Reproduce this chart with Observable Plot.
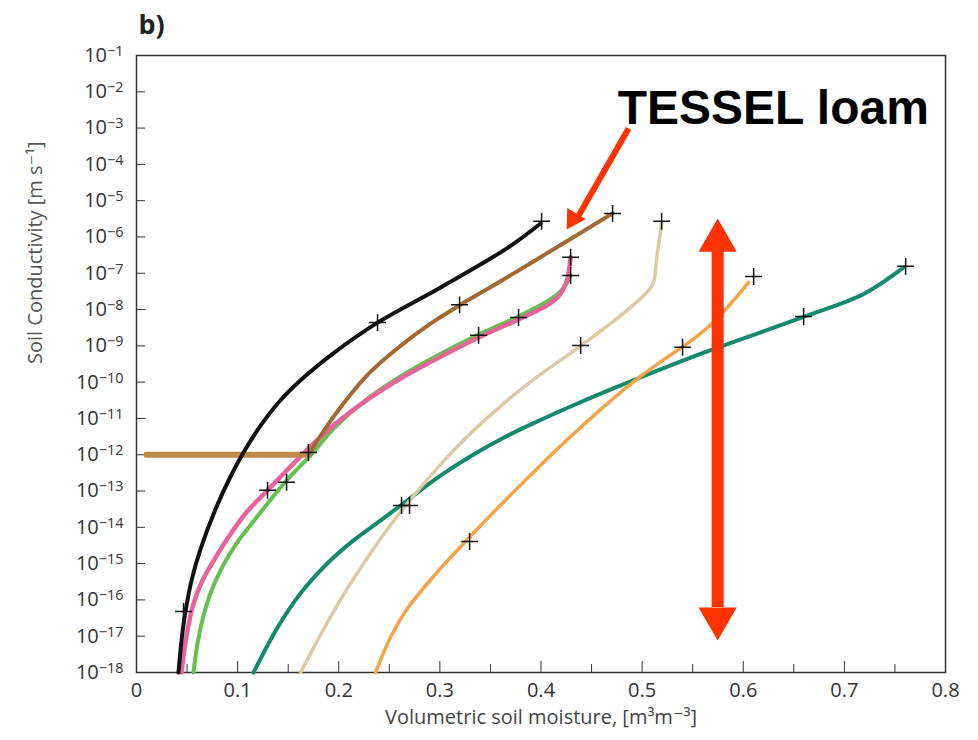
<!DOCTYPE html>
<html><head><meta charset="utf-8">
<script src="https://cdn.jsdelivr.net/npm/d3@7"></script>
<script src="https://cdn.jsdelivr.net/npm/@observablehq/plot@0.6"></script>
<style>body{margin:0;background:#fff}</style>
</head><body><div id="chart"></div>
<script>
// x = volumetric soil moisture [m3/m3], logK = log10 of soil conductivity [m/s]
const blackX    = [0.0415,0.0450,0.0485,0.0550,0.0633,0.0781,0.0930,0.1058,0.1227,0.1424,0.1622,0.1949,0.2384,0.3007,0.3670,0.3996];
const blackLogK = [-18,-17.0,-16.3,-15.4,-14.6,-13.5,-12.6,-11.94,-11.2,-10.5,-9.95,-9.2,-8.36,-7.39,-6.3,-5.63];
const tesselFlatX    = [0.01,0.1701];
const tesselFlatLogK = [-12,-12];
const tesselX    = [0.1701,0.1949,0.2285,0.2611,0.2900,0.3185,0.3600,0.4194,0.4708];
const tesselLogK = [-12,-10.95,-9.80,-9.00,-8.40,-7.90,-7.22,-6.22,-5.35];
const pinkX    = [0.0445,0.0495,0.0564,0.0653,0.0752,0.0900,0.1078,0.1296,0.1642,0.1949,0.2285,0.2611,0.2938,0.3383,0.3778,0.4075,0.4194,0.4253,0.4293];
const pinkLogK = [-18,-16.98,-16.10,-15.46,-14.97,-14.31,-13.62,-12.98,-11.99,-11.19,-10.48,-9.90,-9.40,-8.77,-8.27,-7.86,-7.56,-7.23,-6.56];
const greenX    = [0.0564,0.0603,0.0663,0.0742,0.0851,0.0989,0.1147,0.1306,0.1484,0.1721,0.1949,0.2285,0.2611,0.2938,0.3383,0.3778,0.4075,0.4194,0.4253,0.4293];
const greenLogK = [-18,-17.20,-16.43,-15.74,-15.08,-14.44,-13.87,-13.31,-12.71,-12.02,-11.28,-10.45,-9.84,-9.32,-8.69,-8.19,-7.75,-7.50,-7.28,-7.06];
const beigeX    = [0.1622,0.1889,0.2087,0.2285,0.2433,0.2661,0.2977,0.3304,0.3630,0.3966,0.4392,0.4886,0.5104,0.5143,0.5193];
const beigeLogK = [-18,-16.61,-15.68,-14.83,-14.24,-13.40,-12.36,-11.41,-10.59,-9.85,-9.0,-7.94,-7.31,-6.59,-5.63];
const tealX    = [0.1157,0.1395,0.1622,0.1889,0.2146,0.2384,0.2611,0.2977,0.3304,0.3630,0.3966,0.4293,0.4619,0.4955,0.5282,0.5697,0.6597,0.7191,0.7587];
const tealLogK = [-18,-16.76,-15.82,-14.99,-14.36,-13.87,-13.40,-12.63,-12.04,-11.53,-11.08,-10.67,-10.28,-9.90,-9.54,-9.10,-8.20,-7.57,-6.84];
const orangeX    = [0.2364,0.2512,0.2681,0.3007,0.3284,0.3630,0.3966,0.4293,0.4619,0.4955,0.5282,0.5480,0.5678,0.5875,0.6053];
const orangeLogK = [-18,-17.03,-16.23,-15.13,-14.30,-13.30,-12.37,-11.50,-10.68,-9.90,-9.25,-8.87,-8.42,-7.84,-7.25];
const plusX    = [0.0465,0.1296,0.1484,0.170,0.2384,0.3195,0.3383,0.3778,0.4006,0.4293,0.4293,0.4708,0.5193,0.4392,0.2621,0.270,0.3294,0.540,0.6103,0.6597,0.7606];
const plusLogK = [-16.32,-12.98,-12.76,-11.94,-8.36,-7.87,-8.71,-8.22,-5.57,-6.56,-7.06,-5.35,-5.57,-8.99,-13.40,-13.40,-14.39,-9.04,-7.09,-8.19,-6.81];
const xTicks = [0,0.1,0.2,0.3,0.4,0.5,0.6,0.7,0.8];
const xMinorTicks = [0.05,0.15,0.25,0.35,0.45,0.55,0.65,0.75];
const yTickExp = [-18,-17,-16,-15,-14,-13,-12,-11,-10,-9,-8,-7,-6,-5,-4,-3,-2,-1];
// annotations
const annotText = "TESSEL loam";
const annotTextX = 0.4758, annotTextLogK = -2.45;
const annotArrowX = [0.4866,0.4367], annotArrowLogK = [-3.01,-5.435];
const annotHeadX = 0.4318, annotHeadLogK = -5.50;
const rangeArrowX = 0.5747;
const rangeShaftLogK = [-6.40,-16.21];
const rangeHeadLogK = [-6.10,-16.51];

const series = [
  {name:"teal", xs:tealX, ls:tealLogK, color:"#138a6c", w:4},
  {name:"orange", xs:orangeX, ls:orangeLogK, color:"#f4a347", w:3.5},
  {name:"beige", xs:beigeX, ls:beigeLogK, color:"#dccaa6", w:3.5},
  {name:"green", xs:greenX, ls:greenLogK, color:"#63c04f", w:4},
  {name:"pink", xs:pinkX, ls:pinkLogK, color:"#e8639a", w:4.5},
  {name:"tesselFlat", xs:tesselFlatX, ls:tesselFlatLogK, color:"#c08a4a", w:6, curve:"linear"},
  {name:"tessel", xs:tesselX, ls:tesselLogK, color:"#a26a32", w:4},
  {name:"black", xs:blackX, ls:blackLogK, color:"#111111", w:4}
];
const toRows = (xs, ls) => xs.map((x,i)=>({x, k: 10**ls[i]}));

const font = "'Open Sans', 'DejaVu Sans', sans-serif";
const marks = [
  Plot.frame({stroke:"#333", strokeWidth:1.5}),
  Plot.axisY({ticks: yTickExp.map(e=>10**e), tickFormat: d=>String(Math.round(Math.log10(d))), tickSize:-9, tickPadding:22, fontSize:20, label:null, color:"#333"}),
  Plot.axisX({ticks: xTicks, tickFormat: d=>String(d), tickSize:-11, tickPadding:21, fontSize:20, label:null, color:"#333"}),
  Plot.axisX({ticks: xMinorTicks, tickFormat: ()=>"", tickSize:-8, label:null, color:"#333"}),
  ...series.map(s => Plot.line(toRows(s.xs, s.ls), {x:"x", y:"k", stroke:s.color, strokeWidth:s.w, curve:s.curve||"catmull-rom"})),
  Plot.dot(toRows(plusX, plusLogK), {x:"x", y:"k", symbol:"plus", r:5.5, stroke:"#111", strokeWidth:1.5}),
  // TESSEL annotation
  Plot.link([0], {x1:()=>annotArrowX[0], y1:()=>10**annotArrowLogK[0], x2:()=>annotArrowX[1], y2:()=>10**annotArrowLogK[1], stroke:"#ff3300", strokeWidth:6}),
  Plot.dot([0], {x:()=>annotHeadX, y:()=>10**annotHeadLogK, symbol:"triangle", r:8, fill:"#ff3300", rotate:211.5}),
  Plot.text([annotText], {x:()=>annotTextX, y:()=>10**annotTextLogK, text:d=>d, textAnchor:"start", lineAnchor:"middle", fontSize:48, fontWeight:"bold", fontFamily:"'Liberation Sans', Arial, sans-serif", fill:"#000"}),
  // double arrow
  Plot.ruleX([rangeArrowX], {x:d=>d, y1:()=>10**rangeShaftLogK[0], y2:()=>10**rangeShaftLogK[1], stroke:"#ff3300", strokeWidth:12}),
  Plot.dot([0,1], {x:()=>rangeArrowX, y:i=>10**rangeHeadLogK[i], symbol:"triangle", r:14.2, fill:"#ff3300", rotate:i=>i===0?0:180}),
  // labels
  Plot.text(["b)"], {frameAnchor:"top-left", text:d=>d, dx:2, dy:-30, textAnchor:"start", lineAnchor:"middle", fontSize:27, fontWeight:"bold", fill:"#222"}),
  Plot.text(["Soil Conductivity [m s⁻¹]"], {frameAnchor:"left", text:d=>d, dx:-101, rotate:-90, fontSize:20, fill:"#555"}),
  Plot.text(["Volumetric soil moisture, [m³m⁻³]"], {frameAnchor:"bottom", text:d=>d, dy:51, fontSize:20, fill:"#444"})
];

const chart = Plot.plot({
  width:978, height:740,
  marginLeft:136, marginRight:33, marginTop:55, marginBottom:68,
  style:{fontFamily:font, background:"#fff"},
  x:{domain:[0,0.8]},
  y:{type:"log", domain:[1e-18,1e-1]},
  marks
});
// render y tick labels as 10 with a raised exponent
d3.select(chart).selectAll('g[aria-label="y-axis tick label"] text').each(function(){
  const t = d3.select(this);
  const e = t.text().replace("-", "−");
  t.text("10");
  t.append("tspan").attr("dy","-0.42em").attr("font-size","0.72em").text(e);
});
document.getElementById("chart").appendChild(chart);
</script>
</body></html>
